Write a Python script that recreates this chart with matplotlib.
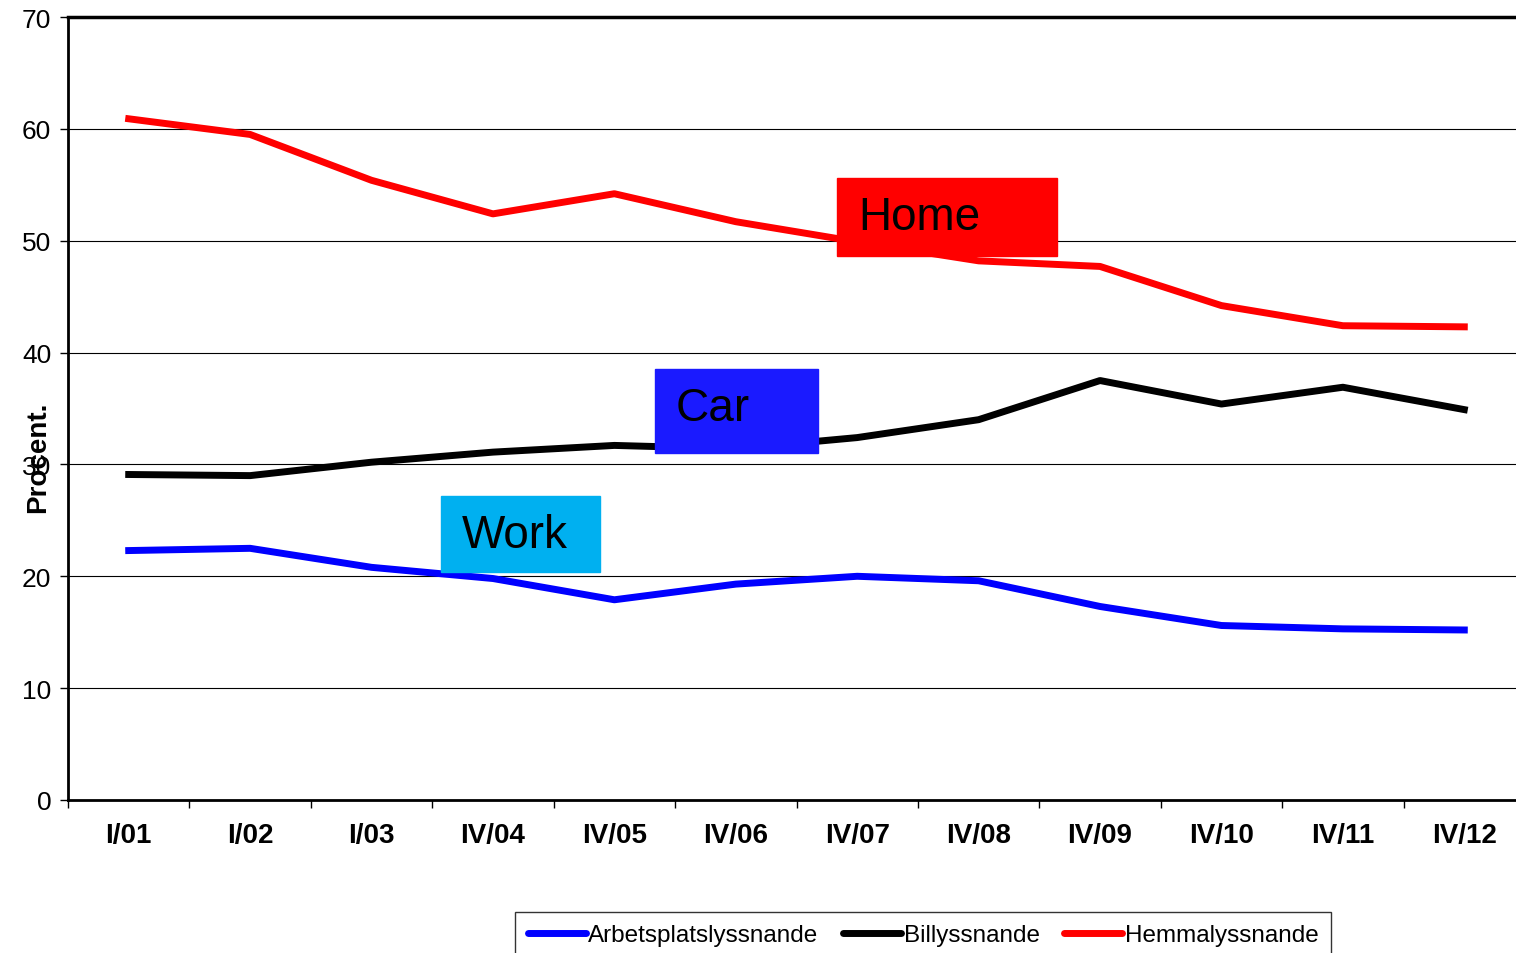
import matplotlib.pyplot as plt
from matplotlib.patches import Rectangle

plt.rcParams['font.family'] = ['Liberation Sans', 'DejaVu Sans']

kvartal = ["I/01", "I/02", "I/03", "IV/04", "IV/05", "IV/06",
           "IV/07", "IV/08", "IV/09", "IV/10", "IV/11", "IV/12"]
arbetsplats = [22.3, 22.5, 20.8, 19.8, 17.9, 19.3, 20.0, 19.6, 17.3, 15.6, 15.3, 15.2]
bil = [29.1, 29.0, 30.2, 31.1, 31.7, 31.4, 32.4, 34.0, 37.5, 35.4, 36.9, 34.9]
hemma = [60.9, 59.5, 55.4, 52.4, 54.2, 51.7, 49.9, 48.2, 47.7, 44.2, 42.4, 42.3]

W, H = 1516, 954
fig = plt.figure(figsize=(W / 100, H / 100), dpi=100)
ax = fig.add_axes([68 / W, (H - 801) / H, (1525 - 68) / W, 783 / H])

x = range(len(kvartal))
ax.plot(x, arbetsplats, color="#0000ff", lw=5, label="Arbetsplatslyssnande", zorder=3)
ax.plot(x, bil, color="black", lw=5, label="Billyssnande", zorder=3)
ax.plot(x, hemma, color="#ff0000", lw=5, label="Hemmalyssnande", zorder=3)

ax.set_xlim(-0.5, len(kvartal) - 0.5)
ax.set_ylim(0, 70)
ax.set_yticks(range(0, 71, 10))
ax.set_yticklabels([str(v) for v in range(0, 71, 10)], fontsize=19)
ax.set_xticks(list(x))
ax.set_xticklabels(kvartal, fontsize=20, fontweight="bold")
ax.set_xticks([i - 0.5 for i in range(len(kvartal) + 1)], minor=True)
ax.tick_params(axis="x", which="major", length=0, pad=16)
ax.tick_params(axis="x", which="minor", length=6, width=1)
ax.tick_params(axis="y", length=6, width=1, pad=6)
ax.yaxis.grid(True, color="black", lw=0.8)
ax.set_axisbelow(True)
for s in ["left", "bottom"]:
    ax.spines[s].set_linewidth(2)
ax.spines["top"].set_linewidth(2.5)
ax.spines["right"].set_visible(False)

fig.text(38 / W, 1 - 457 / H, "Procent.", rotation=90, fontsize=20,
         fontweight="bold", ha="center", va="center")

# etiketter i rutor (pixlar i figuren)
rutor = [("Home", 837, 179, 1057, 257, "#ff0000"),
         ("Car", 655, 370, 818, 454, "#1a1aff"),
         ("Work", 441, 497, 600, 573, "#00b0f0")]
for txt, x0, y0, x1, y1, farg in rutor:
    fig.patches.append(Rectangle((x0 / W, 1 - y1 / H), (x1 - x0) / W, (y1 - y0) / H,
                                 transform=fig.transFigure, color=farg, zorder=5))
    fig.text((x0 + 21) / W, 1 - (y0 + 39) / H, txt, fontsize=33,
             ha="left", va="center", zorder=6)

leg = fig.legend(loc="center", bbox_to_anchor=(923 / W, 1 - 936 / H),
                 ncol=3, fontsize=17.5, frameon=True, fancybox=False,
                 edgecolor="black", handlelength=2.4, handletextpad=0.1,
                 columnspacing=1.0, borderpad=0.5)
leg.get_frame().set_linewidth(1)
for l in leg.get_lines():
    l.set_linewidth(5)
    l.set_solid_capstyle("round")

fig.savefig("out.png", dpi=100)
